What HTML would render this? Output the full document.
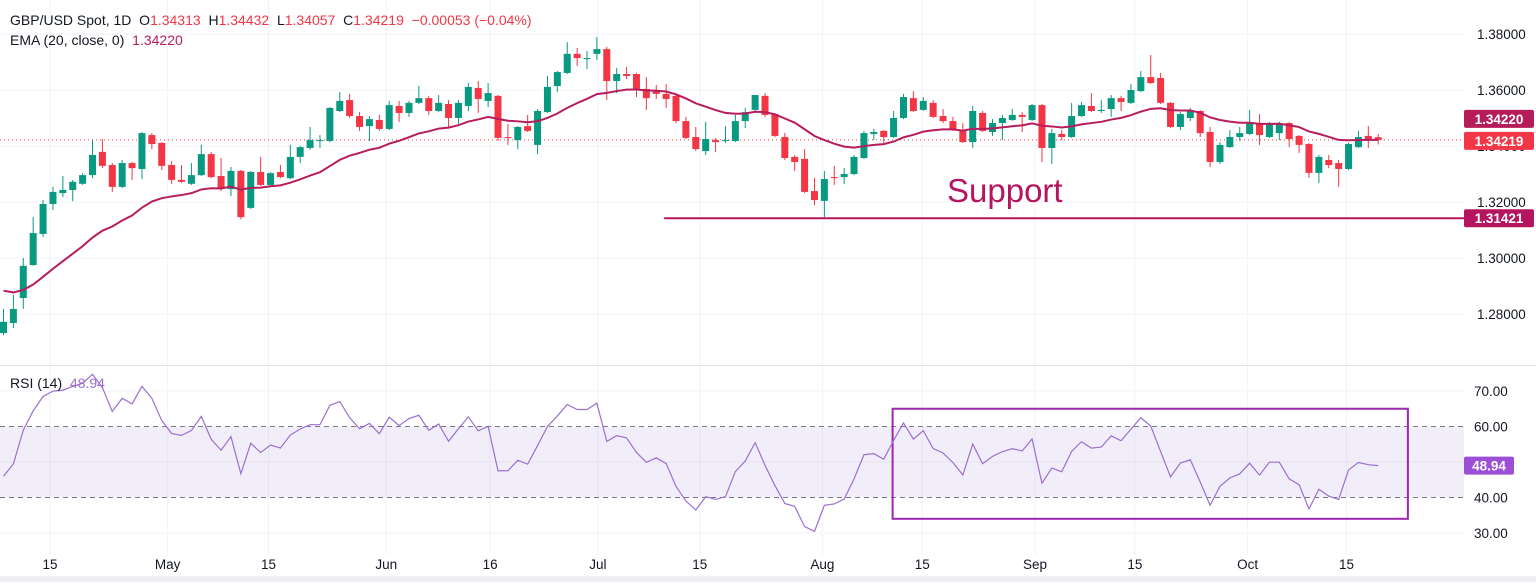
<!DOCTYPE html>
<html><head><meta charset="utf-8">
<style>
html,body{margin:0;padding:0;background:#fff;}
body{width:1536px;height:582px;overflow:hidden;font-family:"Liberation Sans",sans-serif;}
svg text{font-family:"Liberation Sans",sans-serif;}
</style></head>
<body>
<svg id="chart" width="1536" height="582" viewBox="0 0 1536 582" xmlns="http://www.w3.org/2000/svg">
<rect x="0" y="0" width="1536" height="582" fill="#ffffff"/>
<rect x="0" y="576" width="1536" height="6" fill="#eef0f3"/>
<g id="grid"></g>
<g id="rsiBand"></g>
<g id="annot"></g>
<g id="candles"></g>
<g id="lines"></g>
<g id="axes"></g>
<g id="labels"></g>
</svg>
<script>
// ---------- data ----------
const opens  = [1.2732,1.2768,1.2857,1.2975,1.3086,1.3193,1.3232,1.3243,1.3265,1.3296,1.3379,1.3332,1.3254,1.3339,1.3318,1.3439,1.3411,1.3332,1.3279,1.3265,1.3296,1.3371,1.3293,1.3246,1.3311,1.3179,1.3307,1.3261,1.3307,1.3285,1.3361,1.3393,1.3418,1.3418,1.3525,1.3564,1.3507,1.3471,1.3493,1.3461,1.3543,1.3518,1.3554,1.3571,1.3525,1.3550,1.3500,1.3543,1.3607,1.3561,1.3579,1.3432,1.3421,1.3471,1.3404,1.3521,1.3614,1.3661,1.3729,1.3711,1.3729,1.3746,1.3632,1.3657,1.3657,1.3604,1.3596,1.3586,1.3579,1.3489,1.3432,1.3382,1.3421,1.3418,1.3418,1.3489,1.3529,1.3579,1.3514,1.3432,1.3361,1.3354,1.3239,1.3204,1.3289,1.3289,1.3300,1.3357,1.3443,1.3454,1.3432,1.3500,1.3571,1.3529,1.3554,1.3507,1.3489,1.3457,1.3414,1.3518,1.3450,1.3482,1.3493,1.3511,1.3493,1.3546,1.3393,1.3443,1.3432,1.3507,1.3543,1.3525,1.3532,1.3571,1.3554,1.3596,1.3646,1.3643,1.3554,1.3468,1.3500,1.3525,1.3450,1.3343,1.3396,1.3432,1.3443,1.3482,1.3432,1.3446,1.3482,1.3436,1.3407,1.3304,1.3350,1.3339,1.3318,1.3396,1.3436,1.34313];
const highs  = [1.2818,1.2868,1.3000,1.3146,1.3207,1.3254,1.3293,1.3279,1.3303,1.3421,1.3425,1.3339,1.3350,1.3343,1.3450,1.3446,1.3414,1.3346,1.3332,1.3339,1.3404,1.3379,1.3357,1.3325,1.3314,1.3311,1.3361,1.3307,1.3332,1.3404,1.3400,1.3468,1.3439,1.3539,1.3593,1.3586,1.3521,1.3507,1.3511,1.3561,1.3561,1.3561,1.3614,1.3579,1.3582,1.3564,1.3564,1.3625,1.3632,1.3625,1.3582,1.3479,1.3471,1.3511,1.3532,1.3650,1.3668,1.3771,1.3750,1.3739,1.3789,1.3754,1.3679,1.3682,1.3661,1.3646,1.3618,1.3621,1.3582,1.3504,1.3468,1.3486,1.3429,1.3471,1.3511,1.3536,1.3582,1.3589,1.3518,1.3446,1.3368,1.3389,1.3286,1.3311,1.3329,1.3321,1.3368,1.3454,1.3461,1.3457,1.3525,1.3586,1.3596,1.3575,1.3564,1.3532,1.3504,1.3482,1.3543,1.3525,1.3496,1.3511,1.3532,1.3521,1.3550,1.3550,1.3461,1.3457,1.3554,1.3557,1.3589,1.3564,1.3582,1.3579,1.3621,1.3668,1.3725,1.3661,1.3557,1.3521,1.3536,1.3529,1.3468,1.3414,1.3457,1.3468,1.3529,1.3514,1.3486,1.3486,1.3486,1.3439,1.3411,1.3368,1.3368,1.3350,1.3411,1.3454,1.3471,1.34432];
const lows   = [1.2725,1.2750,1.2818,1.2972,1.3075,1.3171,1.3218,1.3203,1.3261,1.3285,1.3321,1.3236,1.3250,1.3279,1.3282,1.3389,1.3314,1.3265,1.3268,1.3261,1.3293,1.3285,1.3239,1.3221,1.3139,1.3175,1.3257,1.3257,1.3285,1.3282,1.3339,1.3386,1.3393,1.3414,1.3521,1.3500,1.3454,1.3418,1.3454,1.3457,1.3486,1.3504,1.3550,1.3511,1.3521,1.3464,1.3479,1.3525,1.3518,1.3539,1.3418,1.3404,1.3389,1.3450,1.3371,1.3518,1.3593,1.3657,1.3686,1.3675,1.3707,1.3564,1.3589,1.3639,1.3575,1.3529,1.3568,1.3536,1.3482,1.3425,1.3382,1.3368,1.3379,1.3411,1.3414,1.3464,1.3525,1.3504,1.3432,1.3350,1.3311,1.3232,1.3189,1.3146,1.3261,1.3264,1.3296,1.3354,1.3421,1.3411,1.3429,1.3496,1.3521,1.3525,1.3500,1.3482,1.3454,1.3411,1.3393,1.3450,1.3436,1.3421,1.3489,1.3450,1.3489,1.3343,1.3336,1.3421,1.3429,1.3504,1.3521,1.3518,1.3504,1.3525,1.3550,1.3593,1.3621,1.3550,1.3464,1.3457,1.3489,1.3432,1.3325,1.3336,1.3393,1.3418,1.3439,1.3404,1.3429,1.3421,1.3396,1.3375,1.3286,1.3268,1.3321,1.3254,1.3314,1.3393,1.3393,1.34057];
const closes = [1.2772,1.2818,1.2972,1.3089,1.3193,1.3236,1.3243,1.3272,1.3296,1.3368,1.3329,1.3254,1.3339,1.3321,1.3446,1.3407,1.3329,1.3279,1.3272,1.3296,1.3371,1.3289,1.3246,1.3311,1.3146,1.3307,1.3261,1.3303,1.3289,1.3361,1.3396,1.3421,1.3421,1.3536,1.3561,1.3507,1.3468,1.3496,1.3461,1.3546,1.3518,1.3554,1.3571,1.3525,1.3554,1.3500,1.3554,1.3611,1.3568,1.3589,1.3429,1.3429,1.3468,1.3454,1.3525,1.3611,1.3664,1.3729,1.3714,1.3714,1.3746,1.3632,1.3657,1.3650,1.3604,1.3571,1.3586,1.3568,1.3489,1.3429,1.3389,1.3425,1.3414,1.3421,1.3489,1.3521,1.3582,1.3511,1.3436,1.3357,1.3343,1.3236,1.3207,1.3282,1.3286,1.3300,1.3361,1.3446,1.3450,1.3432,1.3500,1.3575,1.3525,1.3561,1.3504,1.3489,1.3457,1.3414,1.3525,1.3454,1.3482,1.3500,1.3511,1.3504,1.3546,1.3393,1.3446,1.3432,1.3507,1.3546,1.3525,1.3529,1.3571,1.3557,1.3600,1.3646,1.3625,1.3554,1.3468,1.3514,1.3525,1.3446,1.3343,1.3404,1.3432,1.3446,1.3482,1.3439,1.3482,1.3482,1.3425,1.3404,1.3304,1.3361,1.3332,1.3318,1.3407,1.3432,1.3425,1.34219];
const priceTicks = [1.28,1.30,1.32,1.34,1.36,1.38];
const rsiTicks = [30,40,60,70];
const dateTickIdx = [4.7,16.6,26.8,38.7,49.2,60.1,70.4,82.8,92.9,104.3,114.4,125.8,135.8];
const dateTickLabels = ["15","May","15","Jun","16","Jul","15","Aug","15","Sep","15","Oct","15"];
const supportLevel = 1.31421;
const emaLastLabel = "1.34220";
const rsiLastLabel = "48.94";
const emaSeed = 1.2895;
const rsiSeedGain = 0.0024, rsiSeedLoss = 0.0030;
const boxStartIdx = 89.9, boxEndIdx = 142.0, boxTop = 65, boxBottom = 34;
const supportStartIdx = 66.8;

// ---------- scales ----------
const plotRight = 1464;
function X(i){ return 3.5 + i*9.89; }
function PY(p){ return 34 + (1.38 - p)*2800; }
function RY(v){ return 391 + (70 - v)*3.55; }
const NS="http://www.w3.org/2000/svg";
function mk(tag, attrs, parent){ const e=document.createElementNS(NS,tag); for(const k in attrs) e.setAttribute(k,attrs[k]); parent.appendChild(e); return e; }
const G = id=>document.getElementById(id);

// grid
const grid=G('grid');
priceTicks.forEach(p=>{
  const l=mk('line',{x1:0,x2:plotRight,y1:PY(p),y2:PY(p),stroke:'#f0f3fa','stroke-width':1},grid);
  
  
});
dateTickIdx.forEach(i=>{
  const l=mk('line',{x1:X(i),x2:X(i),y1:0,y2:555,stroke:'#f0f3fa','stroke-width':1},grid);
  
  
});
[30,70].forEach(v=>{
  const l=mk('line',{x1:0,x2:plotRight,y1:RY(v),y2:RY(v),stroke:'#f0f3fa','stroke-width':1},grid);
  
  
});
const sep=mk('line',{x1:0,x2:1536,y1:365.5,y2:365.5,stroke:'#e0e3eb','stroke-width':1},grid);



// RSI band
const band=G('rsiBand');
const br=mk('rect',{x:0,y:RY(60),width:plotRight,height:RY(40)-RY(60),fill:'#7e57c2','fill-opacity':0.1},band);


[60,40].forEach(v=>{
  const l=mk('line',{x1:0,x2:plotRight,y1:RY(v),y2:RY(v),stroke:'#787b86','stroke-width':1,'stroke-dasharray':'5,4'},band);
  
  
});
const ml=mk('line',{x1:0,x2:plotRight,y1:RY(50),y2:RY(50),stroke:'#e6e1f0','stroke-width':1},band);



// annotations
const an=G('annot');
const sl=mk('line',{x1:X(supportStartIdx),x2:plotRight,y1:PY(supportLevel),y2:PY(supportLevel),stroke:'#b5145f','stroke-width':2},an);


const st=mk('text',{x:947,y:202,'font-size':33,fill:'#b5145f'},an);
st.textContent='Support';


const bx=mk('rect',{x:X(boxStartIdx),y:RY(boxTop),width:X(boxEndIdx)-X(boxStartIdx),height:RY(boxBottom)-RY(boxTop),fill:'none',stroke:'#9c27b0','stroke-width':2},an);


const last=closes.length-1;
const cl=mk('line',{x1:0,x2:plotRight,y1:PY(closes[last]),y2:PY(closes[last]),stroke:'#f23645','stroke-width':1,'stroke-dasharray':'1,3'},an);



// candles
const cg=G('candles');
for(let i=0;i<closes.length;i++){
  const up=closes[i]>=opens[i];
  const col=up?'#089981':'#f23645';
  const x=X(i);
  const w=mk('line',{x1:x,x2:x,y1:PY(highs[i]),y2:PY(lows[i]),stroke:col,'stroke-width':1},cg);
  
  
  const t=Math.min(PY(opens[i]),PY(closes[i])), b=Math.max(PY(opens[i]),PY(closes[i]));
  const r=mk('rect',{x:x-3.5,y:t,width:7,height:Math.max(1,b-t),fill:col},cg);
  
  
}

// EMA
const ema=[]; let e=emaSeed; const k=2/21;
closes.forEach(c=>{ e=c*k+e*(1-k); ema.push(e); });
const lg=G('lines');
const ep=mk('polyline',{points:ema.map((v,i)=>X(i)+','+PY(v)).join(' '),fill:'none',stroke:'#b71d5d','stroke-width':2},lg);



// RSI
const rsi=[]; let ag=rsiSeedGain, al=rsiSeedLoss, prev=closes[0]-0.002;
closes.forEach(c=>{ const d=c-prev; prev=c; ag=(ag*13+Math.max(d,0))/14; al=(al*13+Math.max(-d,0))/14; rsi.push(100-100/(1+ag/al)); });
const rp=mk('polyline',{points:rsi.map((v,i)=>X(i)+','+RY(v)).join(' '),fill:'none',stroke:'#9c6fd0','stroke-width':1.2},lg);



// axes labels
const ax=G('axes');
priceTicks.forEach(p=>{
  const t=mk('text',{x:1477,y:PY(p)+5,'font-size':13.5,fill:'#131722'},ax);
  t.textContent=p.toFixed(5);
  
  
});
rsiTicks.forEach(v=>{
  const t=mk('text',{x:1474,y:RY(v)+5,'font-size':13.5,fill:'#131722'},ax);
  t.textContent=v.toFixed(2);
  
  
});
dateTickIdx.forEach((i,j)=>{
  const t=mk('text',{x:X(i),y:569,'font-size':13.5,fill:'#131722','text-anchor':'middle'},ax);
  t.textContent=dateTickLabels[j];
  
  
});

// price tags
const lb=G('labels');
function tag(y,txt,bg,name,w,x0){
  const g=mk('g',{},lb);
  
  
  mk('rect',{x:x0,y:y-9,width:w,height:18,rx:2,fill:bg},g);
  const t=mk('text',{x:x0+w/2,y:y+5,'font-size':13.5,fill:'#fff','text-anchor':'middle','font-weight':'bold'},g);
  t.textContent=txt;
}
tag(PY(ema[last])-21, emaLastLabel,'#b71c5a','ema-price-tag',70,1464);
tag(PY(closes[last])+1, closes[last].toFixed(5),'#f23645','last-price-tag',70,1464);
tag(PY(supportLevel), supportLevel.toFixed(5),'#b5145f','support-price-tag',70,1464);
tag(RY(rsi[last]), rsiLastLabel,'#9c4fd6','rsi-value-tag',50,1464);
</script>
<div style="position:absolute;left:10px;top:10px;font-size:14px;color:#131722;line-height:20px;">
  <div>GBP/USD Spot, 1D&nbsp;&nbsp;O<span style="color:#f23645">1.34313</span>&nbsp;&nbsp;H<span style="color:#f23645">1.34432</span>&nbsp;&nbsp;L<span style="color:#f23645">1.34057</span>&nbsp;&nbsp;C<span style="color:#f23645">1.34219</span>&nbsp;&nbsp;<span style="color:#f23645">−0.00053 (−0.04%)</span></div>
  <div>EMA (20, close, 0)&nbsp;&nbsp;<span style="color:#b71c5a">1.34220</span></div>
</div>
<div style="position:absolute;left:10px;top:375px;font-size:14px;color:#131722;">RSI (14)&nbsp;&nbsp;<span style="color:#9c6fd0">48.94</span></div>
</body></html>
